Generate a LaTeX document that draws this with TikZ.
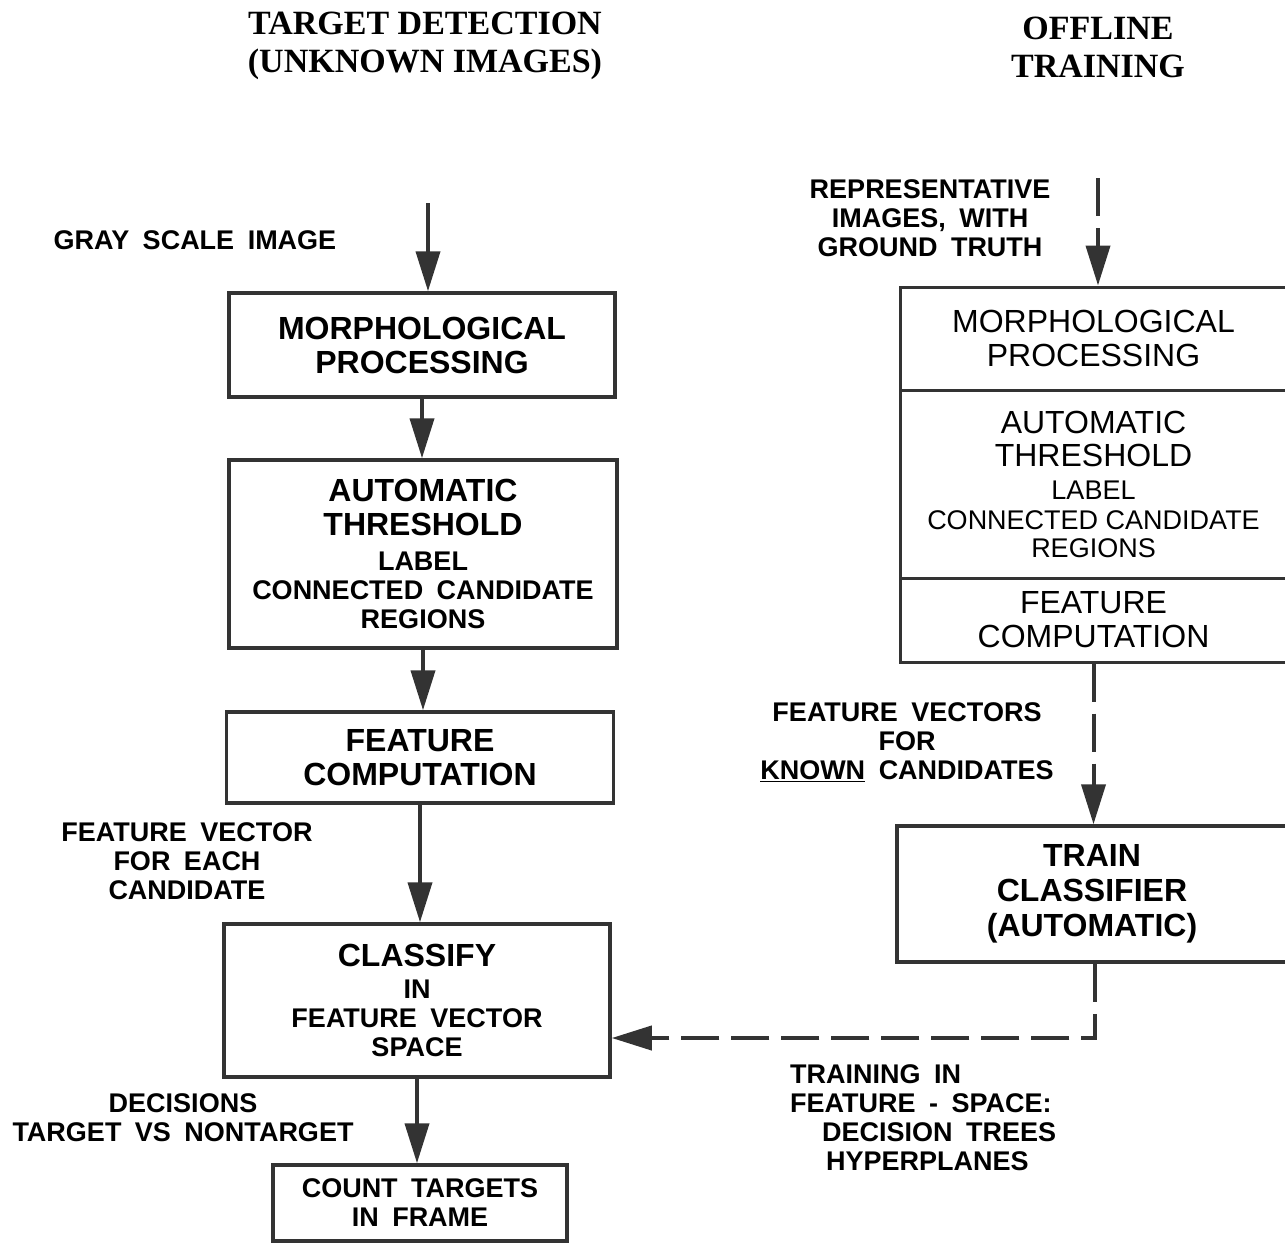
\documentclass[tikz,border=0pt]{standalone}
\usepackage{fontspec}
\setmainfont{Liberation Sans}
\newfontfamily\titlefont{Liberation Serif}
\newfontfamily\lblfont[WordSpace=1.8]{Liberation Sans}
\usetikzlibrary{arrows.meta}
\definecolor{ink}{gray}{0.2}
\newcommand{\smb}{\lblfont\fontsize{27}{29}\selectfont\bfseries}
\newcommand{\smr}{\fontsize{27}{29}\selectfont\mdseries}
\begin{document}
\begin{tikzpicture}[x=1pt,y=-1pt,
  every node/.style={inner sep=0pt,align=center},
  box/.style={draw=ink,line width=3.5pt,font=\fontsize{32}{34}\selectfont\bfseries},
  rbox/.style={draw=ink,line width=3pt,font=\fontsize{32}{34}\selectfont},
  lbl/.style={font=\smb},
  ttl/.style={font=\titlefont\fontsize{34}{38}\selectfont\bfseries},
  arr/.style={draw=ink,line width=4pt,-{Triangle[length=40pt,width=24pt]}},
  darr/.style={arr,dash pattern=on 38pt off 12pt},
]
\path[use as bounding box] (0,0) rectangle (1285,1245);
\clip (0,0) rectangle (1285,1245);

% titles
\node[ttl] (t1) at (425,46) {TARGET DETECTION\\(UNKNOWN IMAGES)};
\node[ttl] (t2) at (1098,47) {OFFLINE\\TRAINING};

% left column
\node[lbl] (gray) at (195,240) {GRAY SCALE IMAGE};
\coordinate (in1) at (428,203);
\node[box,minimum width=386pt,minimum height=104pt] (m1) at (422,345) {MORPHOLOGICAL\\PROCESSING};
\node[box,minimum width=388pt,minimum height=188pt] (m2) at (423,554)
  {AUTOMATIC\\THRESHOLD\\[1pt]{\smb LABEL}\\[-5pt]{\smb CONNECTED CANDIDATE}\\[-5pt]{\smb REGIONS}};
\node[box,minimum width=387pt,minimum height=91pt] (m3) at (420,757.5) {FEATURE\\COMPUTATION};
\node[lbl] (fv) at (187,861) {FEATURE VECTOR\\FOR EACH\\CANDIDATE};
\node[box,minimum width=386pt,minimum height=153pt] (m4) at (417,1000.5)
  {CLASSIFY\\[-2pt]{\smb IN}\\[-5pt]{\smb FEATURE VECTOR}\\[-5pt]{\smb SPACE}};
\node[lbl] (dec) at (183,1118) {DECISIONS\\TARGET VS NONTARGET};
\node[box,font=\smb,minimum width=294pt,minimum height=76pt] (m5) at (420,1203) {COUNT TARGETS\\IN FRAME};

% right column
\node[lbl] (rep) at (930,218) {REPRESENTATIVE\\IMAGES, WITH\\GROUND TRUTH};
\coordinate (in2) at (1098,178);
\node[rbox,minimum width=387pt,minimum height=103pt] (r1) at (1093.5,338.5) {MORPHOLOGICAL\\PROCESSING};
\node[rbox,minimum width=387pt,minimum height=188pt] (r2) at (1093.5,484)
  {AUTOMATIC\\[-1pt]THRESHOLD\\[-1pt]{\smr LABEL}\\[-4pt]{\smr CONNECTED CANDIDATE}\\[-6pt]{\smr REGIONS}};
\node[rbox,minimum width=387pt,minimum height=84pt] (r3) at (1093.5,620) {FEATURE\\COMPUTATION};
\node[lbl] (fvs) at (907,742) {FEATURE VECTORS\\FOR\\\underline{KNOWN} CANDIDATES};
\node[box,minimum width=390pt,minimum height=136pt] (tc) at (1092,894) {TRAIN\\[1pt]CLASSIFIER\\[1pt](AUTOMATIC)};
\node[lbl,align=left,anchor=west] (tr) at (790,1118)
  {TRAINING IN\\FEATURE - SPACE:\\\hspace*{32pt}DECISION TREES\\\hspace*{36pt}HYPERPLANES};
\coordinate (bend) at (1095,1038);

% connectors
\draw[arr] (in1) -- (in1 |- m1.north);
\draw[arr] (m1.south) -- (m1.south |- m2.north);
\draw[arr] (m2.south) -- (m2.south |- m3.north);
\draw[arr] (m3.south) -- (m3.south |- m4.north);
\draw[arr] (m4.south) -- (m4.south |- m5.north);
\draw[darr] (in2) -- (in2 |- r1.north);
\draw[darr] (r3.south) -- (r3.south |- tc.north);
\draw[darr] (tc.south -| bend) -- (bend) -- (bend -| m4.east);
\end{tikzpicture}
\end{document}
